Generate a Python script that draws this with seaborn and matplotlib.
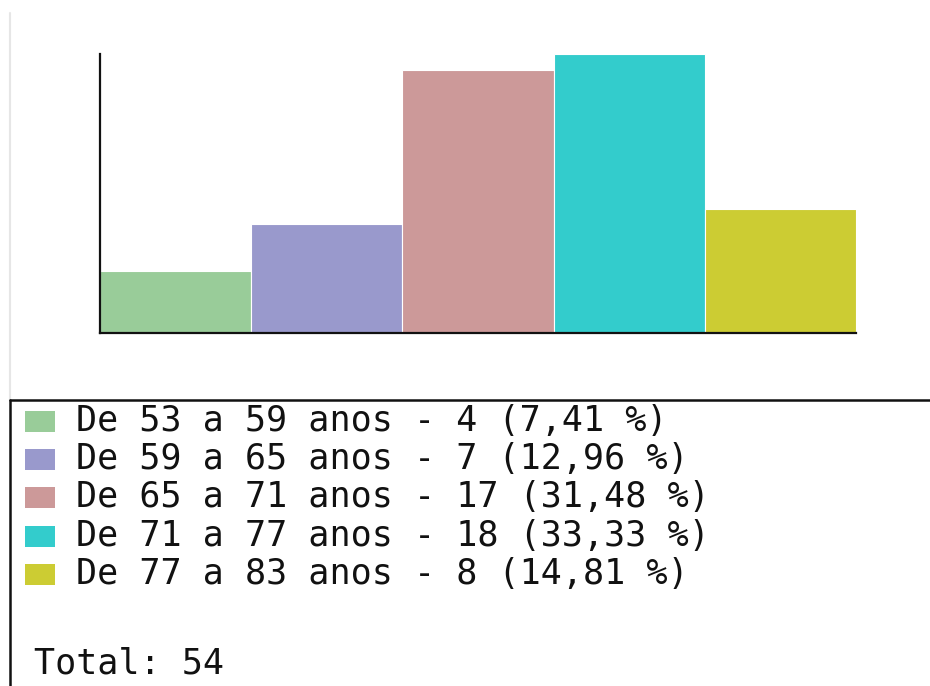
import matplotlib
matplotlib.use("Agg")
import matplotlib.pyplot as plt
import seaborn as sns
import pandas as pd
from matplotlib.patches import Rectangle
from matplotlib.lines import Line2D

# Age groups and number of people in each
faixas = ["De 53 a 59 anos", "De 59 a 65 anos", "De 65 a 71 anos",
          "De 71 a 77 anos", "De 77 a 83 anos"]
contagens = [4, 7, 17, 18, 8]
cores = ["#99CC99", "#9999CC", "#CC9999", "#33CCCC", "#CCCC33"]

total = sum(contagens)
df = pd.DataFrame({"faixa": faixas, "n": contagens})

W, H = 930, 686
DPI = 100
sns.set_style("white")
plt.rcParams["font.family"] = ["DejaVu Sans Mono", "DejaVu Sans"]

fig = plt.figure(figsize=(W / DPI, H / DPI), dpi=DPI)


def fx(px):
    return px / W


def fy(py):
    return 1 - py / H


# Histogram-like bar area
ax = fig.add_axes([fx(100), fy(333), fx(856) - fx(100), fy(54) - fy(333)])
sns.barplot(data=df, x="faixa", y="n", hue="faixa", palette=cores,
            width=1.0, edgecolor="white", linewidth=0.8, legend=False,
            saturation=1, ax=ax)
ax.set_xlim(-0.5, len(faixas) - 0.5)
ax.set_ylim(0, max(contagens))
ax.set_xticks([])
ax.set_yticks([])
ax.set_xlabel("")
ax.set_ylabel("")
for s in ["top", "right"]:
    ax.spines[s].set_visible(False)
for s in ["left", "bottom"]:
    ax.spines[s].set_color("#111111")
    ax.spines[s].set_linewidth(1.6)

# Legend panel frame
fig.add_artist(Line2D([fx(10), fx(10)], [fy(13), fy(400)], color="#e6e6e6",
                      linewidth=1.5, transform=fig.transFigure))
fig.add_artist(Line2D([fx(10), 1.0], [fy(400), fy(400)], color="#111111",
                      linewidth=1.8, transform=fig.transFigure))
fig.add_artist(Line2D([fx(10), fx(10)], [fy(400), 0.0], color="#111111",
                      linewidth=1.8, transform=fig.transFigure))

# Legend entries
linhas_y = [421, 459, 497, 536, 574]
for faixa, n, cor, yy in zip(faixas, contagens, cores, linhas_y):
    pct = f"{100 * n / total:.2f}".replace(".", ",")
    fig.add_artist(Rectangle((fx(25), fy(yy + 11)), fx(30), fy(yy - 10) - fy(yy + 11),
                             facecolor=cor, edgecolor="none",
                             transform=fig.transFigure))
    fig.text(fx(76), fy(yy), f"{faixa} - {n} ({pct} %)", fontsize=25.2,
             va="center", ha="left", color="#111111")

fig.text(fx(34), fy(663), f"Total: {total}", fontsize=25.2,
         va="center", ha="left", color="#111111")

fig.savefig("out.png", dpi=DPI)
